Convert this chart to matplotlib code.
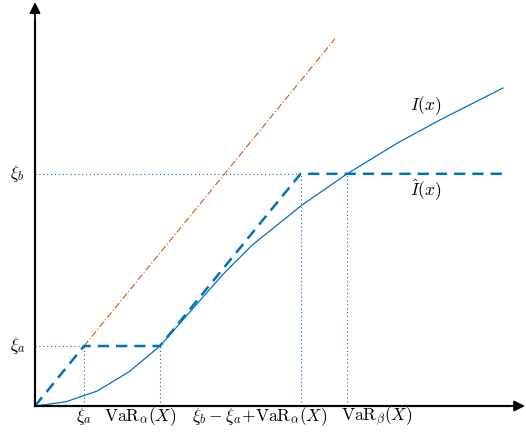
import numpy as np
import matplotlib
matplotlib.use("Agg")
import matplotlib.pyplot as plt

plt.rcParams['mathtext.fontset'] = 'cm'

# key levels (units of xi_a)
xi_a = 1.0
xi_b = 3.87
var_a = 2.55
var_b = 6.37
x_end = 9.55

# I(x) curve
I_x = [0.0, 0.63, 1.27, 1.92, 2.55, 2.96, 3.82, 4.43, 5.45, 6.37, 7.39, 8.27, 9.55]
I_y = [0.0, 0.07, 0.25, 0.57, 1.0, 1.38, 2.18, 2.68, 3.35, 3.87, 4.38, 4.77, 5.30]

# identity line y = x (orange)
id_x = [xi_a, 6.12]

x_kink = xi_b - xi_a + var_a
Ihat_x = [0.0, xi_a, var_a, x_kink, x_end]
Ihat_y = [0.0, xi_a, xi_a, xi_b, xi_b]

blue = '#0072BD'
orange = '#D95319'

fig = plt.figure(figsize=(5.26, 4.34), dpi=100)
ax = fig.add_axes([0, 0, 1, 1])
ax.set_xlim(-35 / 49, 491 / 49)
ax.set_ylim(-28 / 60, 406 / 60)
ax.axis('off')

# dotted guides
dot = dict(color=blue, lw=0.8, ls=(0, (1, 2.5)))
ax.plot([0, xi_a], [xi_a, xi_a], **dot)
ax.plot([0, x_kink], [xi_b, xi_b], **dot)
for xv, yv in [(xi_a, xi_a), (var_a, xi_a), (x_kink, xi_b), (var_b, xi_b)]:
    ax.plot([xv, xv], [0, yv], **dot)

ax.plot(id_x, id_x, color=orange, lw=0.8, ls=(0, (6, 2, 1, 2)))
ax.plot(I_x, I_y, color=blue, lw=0.9)
ax.plot(Ihat_x, Ihat_y, color=blue, lw=1.8, ls=(0, (4.5, 2.8)))

# axes arrows
arr = dict(arrowstyle='-|>', color='black', lw=1.3, mutation_scale=16,
           shrinkA=0, shrinkB=0)
ax.annotate('', xy=(10.0, 0), xytext=(0, 0), arrowprops=arr)
ax.annotate('', xy=(0, 6.73), xytext=(0, 0), arrowprops=arr)
ax.plot([0, 9.7], [0, 0], color='#303030', lw=1.6)
ax.plot([0, 0], [0, 6.4], color='#303030', lw=1.6)

fs = 12.5
ly = -0.18
ax.text(xi_a, ly, r'$\xi_a$', ha='center', va='center', fontsize=fs)
ax.text(2.14, ly, r'$\mathrm{VaR}_\alpha(X)$', ha='center', va='center', fontsize=fs)
ax.text(4.59, ly, r'$\xi_b-\xi_a\!+\!\mathrm{VaR}_\alpha(X)$', ha='center', va='center', fontsize=fs)
ax.text(6.98, ly, r'$\mathrm{VaR}_\beta(X)$', ha='center', va='center', fontsize=fs)
ax.text(-0.36, xi_a, r'$\xi_a$', ha='center', va='center', fontsize=fs)
ax.text(-0.36, xi_b, r'$\xi_b$', ha='center', va='center', fontsize=fs)
ax.text(7.98, 5.0, r'$I(x)$', ha='center', va='center', fontsize=fs)
ax.text(7.98, 3.6, r'$\hat{I}(x)$', ha='center', va='center', fontsize=fs)

fig.savefig('out.png', dpi=100)
